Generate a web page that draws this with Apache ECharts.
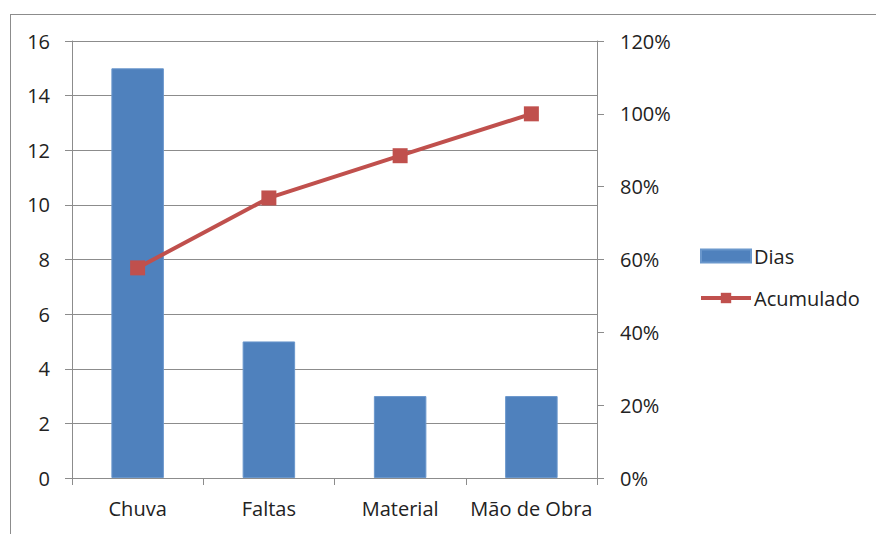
<!DOCTYPE html>
<html>
<head>
<meta charset="utf-8">
<script src="https://cdn.jsdelivr.net/npm/echarts@6/dist/echarts.min.js"></script>
<style>
  html, body { margin: 0; padding: 0; background: #fff; }
  #wrap { position: relative; width: 876px; height: 534px; overflow: hidden; }
  #frame { position: absolute; left: 10px; top: 14px; width: 900px; height: 560px; border: 1px solid #8c8c8c; box-sizing: border-box; }
  #chart { position: absolute; left: 0; top: 0; width: 876px; height: 534px; }
</style>
</head>
<body>
<div id="wrap">
  <div id="frame"></div>
  <div id="chart"></div>
</div>
<script>
(function() {
  var categories = ['Chuva', 'Faltas', 'Material', 'Mão de Obra'];
  var dias = [15, 5, 3, 3];
  var acumulado = [0.577, 0.769, 0.885, 1.0];

  var font = '"Open Sans", sans-serif';
  var ink = '#222';
  var rule = '#8c8c8c';

  var chart = echarts.init(document.getElementById('chart'), null, { renderer: 'svg' });
  chart.setOption({
    animation: false,
    textStyle: { fontFamily: font },
    grid: { left: 72, right: 279, top: 41, bottom: 56, containLabel: false },
    legend: {
      orient: 'vertical',
      left: 699,
      top: 245,
      padding: 0,
      itemWidth: 50,
      itemHeight: 13,
      itemGap: 20,
      textStyle: { color: ink, fontSize: 20, lineHeight: 22, fontFamily: font, padding: [0, 0, 0, -2] },
      data: [
        { name: 'Dias', icon: 'rect' },
        { name: 'Acumulado', lineStyle: { width: 4, color: '#C0504D' } }
      ]
    },
    xAxis: {
      type: 'category',
      data: categories,
      axisLine: { lineStyle: { color: rule, width: 1 } },
      axisTick: { show: true, length: 7, lineStyle: { color: rule } },
      axisLabel: { color: ink, fontSize: 20, margin: 20, interval: 0 }
    },
    yAxis: [
      {
        type: 'value',
        min: 0,
        max: 16,
        interval: 2,
        axisLine: { show: true, lineStyle: { color: rule } },
        axisTick: { show: true, length: 7, lineStyle: { color: rule } },
        axisLabel: { color: ink, fontSize: 20, margin: 22 },
        splitLine: { show: true, lineStyle: { color: rule, width: 1 } }
      },
      {
        type: 'value',
        min: 0,
        max: 1.2,
        interval: 0.2,
        position: 'right',
        axisLine: { show: true, lineStyle: { color: rule } },
        axisTick: { show: true, length: 7, lineStyle: { color: rule } },
        axisLabel: {
          color: ink, fontSize: 20, margin: 23,
          formatter: function(v) { return Math.round(v * 100) + '%'; }
        },
        splitLine: { show: false }
      }
    ],
    series: [
      {
        name: 'Dias',
        type: 'bar',
        data: dias,
        barWidth: '40%',
        itemStyle: { color: '#4F81BD', borderColor: '#6a97cc', borderWidth: 1 }
      },
      {
        name: 'Acumulado',
        type: 'line',
        yAxisIndex: 1,
        data: acumulado,
        symbol: 'rect',
        symbolSize: 15,
        lineStyle: { color: '#C0504D', width: 4 },
        itemStyle: { color: '#C0504D' }
      }
    ]
  });
})();
</script>
</body>
</html>
